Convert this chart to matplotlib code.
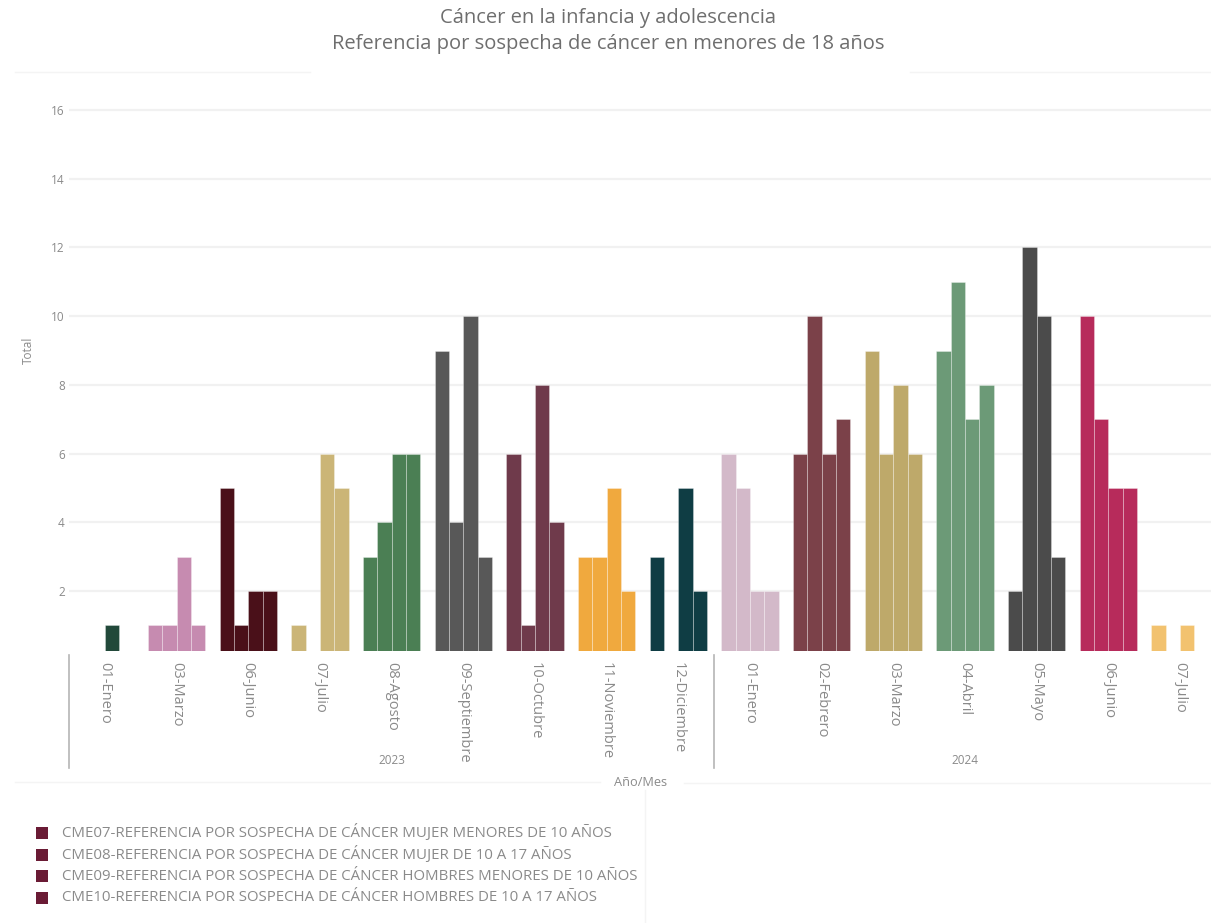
import matplotlib
matplotlib.use("Agg")
import matplotlib.pyplot as plt
import matplotlib.transforms as mtransforms
from matplotlib.patches import Rectangle
from matplotlib.lines import Line2D
import numpy as np

plt.rcParams['font.family'] = ['Open Sans', 'DejaVu Sans']

# Datos: referencias por mes (NaN = sin registro)
years = ["2023", "2024"]
months = ["01-Enero", "03-Marzo", "06-Junio", "07-Julio", "08-Agosto",
          "09-Septiembre", "10-Octubre", "11-Noviembre", "12-Diciembre",
          "01-Enero", "02-Febrero", "03-Marzo", "04-Abril", "05-Mayo",
          "06-Junio", "07-Julio"]
months_per_year = [9, 7]
nan = np.nan
cme07 = [nan, 1, 5, 1, 3, 9, 6, 3, 3, 6, 6, 9, 9, 2, 10, 1]
cme08 = [nan, 1, 1, nan, 4, 4, 1, 3, nan, 5, 10, 6, 11, 12, 7, nan]
cme09 = [1, 3, 2, 6, 6, 10, 8, 5, 5, 2, 6, 8, 7, 10, 5, 1]
cme10 = [nan, 1, 2, 5, 6, 3, 4, 2, 2, 2, 7, 6, 8, 3, 5, nan]
series_names = [
    "CME07-REFERENCIA POR SOSPECHA DE CÁNCER MUJER MENORES DE 10 AÑOS",
    "CME08-REFERENCIA POR SOSPECHA DE CÁNCER MUJER DE 10 A 17 AÑOS",
    "CME09-REFERENCIA POR SOSPECHA DE CÁNCER HOMBRES MENORES DE 10 AÑOS",
    "CME10-REFERENCIA POR SOSPECHA DE CÁNCER HOMBRES DE 10 A 17 AÑOS",
]

# colores por mes
month_colors = ["#22493a", "#c68bb0", "#4a1019", "#cbb577", "#4b7f54",
                "#585858", "#6f3a4b", "#f0a93e", "#0f3d44",
                "#d3b9c9", "#7b4149", "#bea96a", "#6c9a77", "#4b4b4b",
                "#b72b5b", "#f2c26f"]
legend_color = "#6a1b35"
text_grey = "#8a8a8a"

fig = plt.figure(figsize=(12.11, 9.23), dpi=100)
W, H = 1211, 923
ax_left, ax_right, ax_top, ax_bottom = 69, 1216, 95, 651
ax = fig.add_axes([ax_left / W, 1 - ax_bottom / H,
                   (ax_right - ax_left) / W, (ax_bottom - ax_top) / H])

x = np.arange(len(months))
width = 0.2
all_series = [cme07, cme08, cme09, cme10]
for k, vals in enumerate(all_series):
    vals = np.array(vals, dtype=float)
    ax.bar(x + (k - 1.5) * width, vals, width=width, bottom=0,
           color=month_colors, edgecolor=(1, 1, 1, 0.35), linewidth=0.6,
           zorder=3)

ax.set_xlim(-0.5, len(months) - 0.5)
ax.set_ylim(0.25, 16.44)
ax.set_yticks(np.arange(2, 17, 2))
ax.yaxis.grid(True, color="#f1f1f1", linewidth=1.6, zorder=0)
ax.tick_params(axis="y", length=0, pad=3, labelsize=8.5, labelcolor=text_grey)
for s in ax.spines.values():
    s.set_visible(False)

# etiquetas de mes verticales
ax.set_xticks(x)
ax.set_xticklabels(months, rotation=-90, fontsize=10.5, color=text_grey)
ax.tick_params(axis="x", length=0, pad=8)

# agrupacion por año
trans = mtransforms.blended_transform_factory(ax.transData, ax.transAxes)
y_line_top = -(655 - ax_bottom) / (ax_bottom - ax_top)
y_line_bot = -(768 - ax_bottom) / (ax_bottom - ax_top)
y_year = -(760 - ax_bottom) / (ax_bottom - ax_top)
edges = np.concatenate([[0], np.cumsum(months_per_year)]) - 0.5
for e in edges:
    ax.add_line(Line2D([e, e], [y_line_top, y_line_bot], transform=trans,
                       color="#b5b5b5", linewidth=1.2, clip_on=False))
for i, yr in enumerate(years):
    ax.text((edges[i] + edges[i + 1]) / 2, y_year, yr, transform=trans,
            ha="center", va="center", fontsize=8.5, color=text_grey)

fig.text(641 / W, 1 - 782 / H, "Año/Mes", ha="center", va="center",
         fontsize=9.2, color=text_grey)
fig.text(28 / W, 1 - 350 / H, "Total", ha="center", va="center",
         rotation=90, fontsize=8.5, color=text_grey)

# lineas tenues de fondo
fig.add_artist(Line2D([15 / W, 600 / W], [1 - 782 / H, 1 - 782 / H],
                      color="#f4f4f4", linewidth=1))
fig.add_artist(Line2D([684 / W, 1], [1 - 783 / H, 1 - 783 / H],
                      color="#f4f4f4", linewidth=1))
fig.add_artist(Line2D([645 / W, 645 / W], [0, 1 - 790 / H],
                      color="#f4f4f4", linewidth=1))
fig.add_artist(Line2D([15 / W, 310 / W], [1 - 72 / H, 1 - 72 / H],
                      color="#f4f4f4", linewidth=1))
fig.add_artist(Line2D([910 / W, 1], [1 - 72 / H, 1 - 72 / H],
                      color="#f4f4f4", linewidth=1))

# titulo
fig.text(608 / W, 1 - 18 / H, "Cáncer en la infancia y adolescencia",
         ha="center", va="center", fontsize=14.5, color="#6e6e6e")
fig.text(608 / W, 1 - 44 / H,
         "Referencia por sospecha de cáncer en menores de 18 años",
         ha="center", va="center", fontsize=14.5, color="#6e6e6e")

# leyenda
for i, name in enumerate(series_names):
    yc = 833 + i * 21.5
    fig.patches.append(Rectangle((36 / W, 1 - (yc + 6) / H), 12 / W, 12 / H,
                                 transform=fig.transFigure,
                                 facecolor=legend_color, edgecolor="none"))
    fig.text(62 / W, 1 - yc / H, name, ha="left", va="center",
             fontsize=10.8, color=text_grey)

fig.savefig("out.png", dpi=100)
